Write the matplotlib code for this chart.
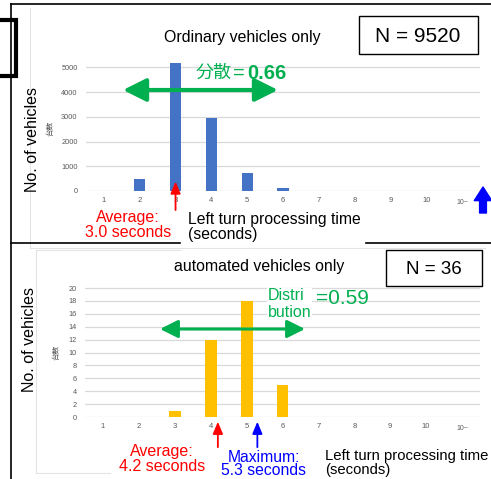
import matplotlib
matplotlib.use('Agg')
import matplotlib.pyplot as plt
from matplotlib.patches import Rectangle

plt.rcParams['font.family'] = ['Liberation Sans', 'Noto Sans CJK JP', 'DejaVu Sans']

# data
categories = ['1', '2', '3', '4', '5', '6', '7', '8', '9', '10', '10~']
ordinary_counts = [0, 480, 5200, 2950, 720, 120, 15, 10, 8, 6, 10]
automated_counts = [0, 0, 1, 12, 18, 5, 0, 0, 0, 0, 0]
ordinary_ticks = [0, 1000, 2000, 3000, 4000, 5000]
automated_ticks = list(range(0, 21, 2))
ordinary_avg = 3.0
automated_avg = 4.2
automated_max = 5.3

W, H = 491, 479
fig = plt.figure(figsize=(W / 100, H / 100), dpi=100)
fig.patch.set_facecolor('white')


def px_axes(left, top, right, bottom):
    return fig.add_axes([left / W, 1 - bottom / H, (right - left) / W, (bottom - top) / H])


def style_axes(ax, ticks, ymax):
    ax.set_xlim(-0.5, len(categories) - 0.5)
    ax.set_ylim(0, ymax)
    ax.set_yticks(ticks)
    ax.set_yticklabels([str(t) for t in ticks], fontsize=5.3, color='#595959')
    ax.set_xticks(range(len(categories)))
    ax.set_xticklabels(categories, fontsize=5.5, color='#595959')
    ax.tick_params(length=0, pad=4)
    ax.tick_params(axis='y', pad=6)
    for s in ax.spines.values():
        s.set_visible(False)
    ax.grid(axis='y', color='#D9D9D9', lw=0.9)
    ax.set_axisbelow(True)
    ax.set_facecolor('none')
    # "10~" sits a little lower in the original
    lab = ax.get_xticklabels()[-1]
    lab.set_fontsize(5)
    lab.set_y(-0.02)


# top chart
ax1 = px_axes(86, 55, 480, 191)
ax1.bar(range(len(categories)), ordinary_counts, width=0.31, color='#4472C4')
style_axes(ax1, ordinary_ticks, 5506)

# bottom chart
ax2 = px_axes(85, 283, 480, 417)
ax2.bar(range(len(categories)), automated_counts, width=0.33, color='#FFC000')
style_axes(ax2, automated_ticks, 20.78)

# arrows pointing at average / maximum
arrow_kw = dict(xycoords=('data', 'axes fraction'), textcoords=('data', 'axes fraction'),
                annotation_clip=False)
ax1.annotate('', xy=(ordinary_avg - 1, 0.07), xytext=(ordinary_avg - 1, -0.14),
             arrowprops=dict(arrowstyle='-|>,head_length=0.6,head_width=0.25', color='red', lw=1.3,
                             mutation_scale=12, shrinkA=0, shrinkB=0), **arrow_kw)
ax2.annotate('', xy=(automated_avg - 1, -0.035), xytext=(automated_avg - 1, -0.225),
             arrowprops=dict(arrowstyle='-|>,head_length=0.6,head_width=0.25', color='red', lw=1.3,
                             mutation_scale=12, shrinkA=0, shrinkB=0), **arrow_kw)
ax2.annotate('', xy=(automated_max - 1, -0.035), xytext=(automated_max - 1, -0.225),
             arrowprops=dict(arrowstyle='-|>,head_length=0.6,head_width=0.25', color='blue', lw=1.3,
                             mutation_scale=12, shrinkA=0, shrinkB=0), **arrow_kw)

# overlay in pixel coordinates for frames and text
ov = fig.add_axes([0, 0, 1, 1], zorder=5)
ov.set_xlim(0, W)
ov.set_ylim(H, 0)
ov.axis('off')
ov.patch.set_alpha(0)

# faint chart-area frames
ov.plot([30, 30], [8, 248], color='#E3E3E3', lw=0.8)
ov.plot([30, 485], [248, 248], color='#E3E3E3', lw=0.8)
ov.plot([36, 36], [250, 473], color='#E3E3E3', lw=0.8)
ov.plot([36, 180], [250, 250], color='#E3E3E3', lw=0.8)
ov.plot([36, 110], [473, 473], color='#E3E3E3', lw=0.8)

# black slide frame lines
ov.plot([11, W], [4, 4], color='black', lw=1.2)
ov.plot([11, 11], [4, H], color='black', lw=1.2)
ov.plot([11, 180], [243, 243], color='black', lw=1.2)
ov.plot([366, W], [243, 243], color='black', lw=1.2)
ov.plot([0, 16, 16, 0], [20, 20, 76, 76], color='black', lw=3, solid_joinstyle='miter')

# N boxes
ov.add_patch(Rectangle((359, 16), 119, 38, fill=False, ec='black', lw=1.0))
ov.text(418, 36, 'N = 9520', fontsize=15, ha='center', va='center')
ov.add_patch(Rectangle((386, 250), 96, 36, fill=False, ec='black', lw=1.0))
ov.text(434, 269, 'N = 36', fontsize=13.5, ha='center', va='center')

# titles
ov.text(242, 37, 'Ordinary vehicles only', fontsize=11.4, ha='center', va='center')
ov.text(259, 267, 'automated vehicles only', fontsize=11.4, ha='center', va='center')

# y labels
ov.text(33, 140, 'No. of vehicles', fontsize=11.5, rotation=90, ha='center', va='center')
ov.text(51, 128, '台数', fontsize=5.5, rotation=90, ha='center', va='center', color='#595959',
        family=['Noto Sans CJK JP'])
ov.text(30, 340, 'No. of vehicles', fontsize=11.5, rotation=90, ha='center', va='center')
ov.text(57, 352, '台数', fontsize=5.5, rotation=90, ha='center', va='center', color='#595959',
        family=['Noto Sans CJK JP'])

# green spread arrows
ov.annotate('', xy=(123, 90), xytext=(278, 90),
            arrowprops=dict(arrowstyle='<|-|>,head_length=0.7,head_width=0.35', color='#00B050', lw=3,
                            mutation_scale=20, shrinkA=0, shrinkB=0))
bunsan = ov.text(196, 73, '分散', fontsize=13, color='#00B050', ha='left', va='center',
                 family=['Noto Sans CJK JP'])
ov.text(233, 73, '=', fontsize=14.5, color='#00B050', ha='left', va='center')
ov.text(247, 73, '0.66', fontsize=14.5, color='#00B050', ha='left', va='center', weight='bold')

ov.annotate('', xy=(160, 329), xytext=(305, 329),
            arrowprops=dict(arrowstyle='<|-|>,head_length=0.6,head_width=0.3', color='#00B050', lw=2.2,
                            mutation_scale=18, shrinkA=0, shrinkB=0))
ov.text(268, 304, 'Distri\nbution', fontsize=11.5, color='#00B050', ha='left', va='center',
        linespacing=1.1, bbox=dict(fc='white', ec='none', pad=0.5))
ov.text(316, 299, '=0.59', fontsize=15, color='#00B050', ha='left', va='center')

# top annotations
ov.text(128, 225, 'Average:\n3.0 seconds', fontsize=11.5, color='red', ha='center', va='center',
        linespacing=0.95)
ov.text(188, 227, 'Left turn processing time\n(seconds)', fontsize=11.3, ha='left', va='center',
        linespacing=0.95)
ov.annotate('', xy=(483, 187), xytext=(483, 213),
            arrowprops=dict(arrowstyle='simple,head_length=0.7,head_width=0.9,tail_width=0.35',
                            color='blue', mutation_scale=14, shrinkA=0, shrinkB=0))

# bottom annotations
ov.text(162, 459, 'Average:\n4.2 seconds', fontsize=11.5, color='red', ha='center', va='center',
        linespacing=0.95)
ov.text(264, 464, 'Maximum:\n5.3 seconds', fontsize=11.3, color='blue', ha='center', va='center',
        linespacing=0.9)
ov.text(325, 463, 'Left turn processing time\n(seconds)', fontsize=10.7, ha='left', va='center',
        linespacing=0.95)

fig.savefig('out.png', dpi=100)
